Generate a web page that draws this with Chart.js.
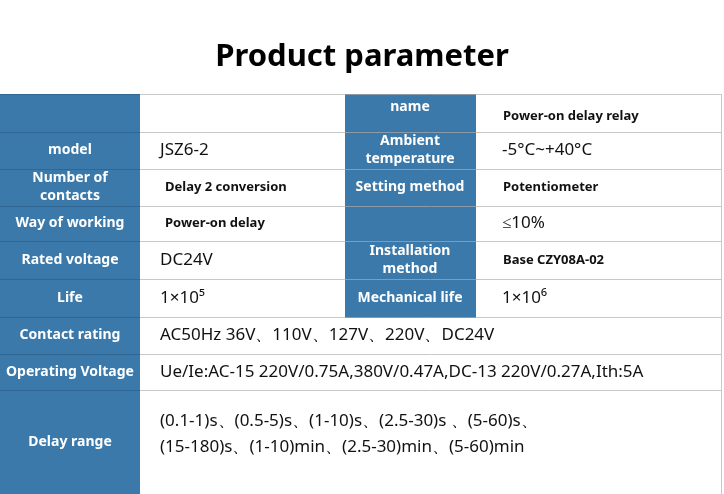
<!DOCTYPE html><html><head><meta charset="utf-8">
<script src="https://cdn.jsdelivr.net/npm/chart.js@4"></script>
<style>html,body{margin:0;padding:0;background:#fff}#w{width:724px;height:494px}</style></head><body><div id="w"><canvas id="c"></canvas></div>
<script>
const titleText = "Product parameter";
const rowEdges = [94,132,169,206,241,279,317,354,390,494];
const colEdges = [0,140,345,476,721];
const leftLabels = ["","model","Number of\ncontacts","Way of working","Rated voltage","Life","Contact rating","Operating Voltage","Delay range"];
const leftValues = ["","JSZ6-2","Delay 2 conversion","Power-on delay","DC24V","1×10⁵","AC50Hz 36V、110V、127V、220V、DC24V","Ue/Ie:AC-15 220V/0.75A,380V/0.47A,DC-13 220V/0.27A,Ith:5A","(0.1-1)s、(0.5-5)s、(1-10)s、(2.5-30)s 、(5-60)s、\n(15-180)s、(1-10)min、(2.5-30)min、(5-60)min"];
const leftValueBold = [false,false,true,true,false,false,false,false,false];
const rightLabels = ["name","Ambient\ntemperature","Setting method","","Installation\nmethod","Mechanical life"];
const rightValues = ["Power-on delay relay","-5°C~+40°C","Potentiometer","≤10%","Base CZY08A-02","1×10⁶"];
const rightValueBold = [true,false,true,false,true,false];
const BLUE="#3b79aa", GRID="#c8c8c8";
const tablePlugin={id:'tbl',afterDraw(ch){
 const c=ch.ctx,X=ch.scales.x,Y=ch.scales.y;
 const px=v=>X.getPixelForValue(v),py=v=>Y.getPixelForValue(v);
 c.save();
 c.fillStyle="#000";c.font="bold 31px 'Noto Sans'";c.textAlign="center";c.textBaseline="middle";
 c.fillText(titleText,px(362),py(57));
 const nR=rowEdges.length-1, full=6;
 // blue cells
 c.fillStyle=BLUE;
 c.fillRect(px(colEdges[0]),py(rowEdges[0]),px(colEdges[1])-px(colEdges[0]),py(rowEdges[nR])-py(rowEdges[0]));
 c.fillRect(px(colEdges[2]),py(rowEdges[0]),px(colEdges[3])-px(colEdges[2]),py(rowEdges[full])-py(rowEdges[0]));
 // grid
 c.lineWidth=1;
 for(let r=0;r<=nR;r++){const y=Math.round(py(rowEdges[r]))+0.5;
  c.strokeStyle=GRID;c.beginPath();c.moveTo(px(colEdges[1]),y);c.lineTo(px(colEdges[4]),y);c.stroke();
  c.strokeStyle="rgba(30,70,110,0.35)";c.beginPath();c.moveTo(px(0),y);c.lineTo(px(colEdges[1]),y);c.stroke();
  if(r<=full){c.beginPath();c.moveTo(px(colEdges[2]),y);c.lineTo(px(colEdges[3]),y);c.stroke();}}
 c.strokeStyle=GRID;let xr=Math.round(px(colEdges[4]))+0.5;
 c.beginPath();c.moveTo(xr,py(rowEdges[0]));c.lineTo(xr,py(rowEdges[nR]));c.stroke();
 const drawT=(t,x,yc,font,color,align,lh)=>{c.font=font;c.fillStyle=color;c.textAlign=align;const L=t.split("\n");
  L.forEach((s,i)=>c.fillText(s,x,yc+(i-(L.length-1)/2)*lh));};
 const lab="bold 14px 'Noto Sans'";
 for(let r=0;r<nR;r++){const yc=(py(rowEdges[r])+py(rowEdges[r+1]))/2;
  drawT(leftLabels[r],px(70),yc,lab,"#fff","center",18);
  drawT(leftValues[r],px(leftValueBold[r]?165:160),yc+(r==nR-1?-8:0),leftValueBold[r]?"bold 13px 'Noto Sans'":"17px 'Noto Sans'","#111","left",26);}
 for(let r=0;r<full;r++){const yc=(py(rowEdges[r])+py(rowEdges[r+1]))/2;
  drawT(rightLabels[r],px(410),yc+(r==0?-6:0),lab,"#fff","center",18);
  drawT(rightValues[r],px(rightValueBold[r]?503:502),yc+(r==0?3:0),rightValueBold[r]?"bold 13px 'Noto Sans'":"17px 'Noto Sans'","#111","left",18);}
 c.restore();}};
new Chart(document.getElementById('c'),{type:'scatter',data:{datasets:[{data:[]}]},
 options:{responsive:true,maintainAspectRatio:false,animation:false,layout:{padding:0},
  plugins:{legend:{display:false},tooltip:{enabled:false}},
  scales:{x:{type:'linear',min:0,max:724,display:false},y:{type:'linear',min:0,max:494,reverse:true,display:false}}},
 plugins:[tablePlugin]});
</script></body></html>
